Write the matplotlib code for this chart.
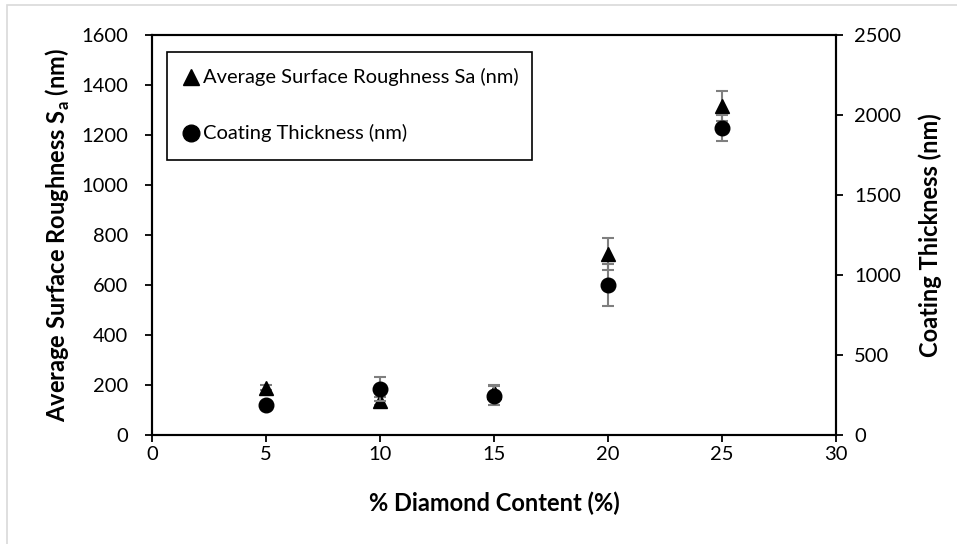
import matplotlib
matplotlib.use("Agg")
import matplotlib.pyplot as plt
from matplotlib.patches import Rectangle

plt.rcParams['font.family'] = ['Lato', 'DejaVu Sans']
plt.rcParams['mathtext.fontset'] = 'custom'
plt.rcParams['mathtext.rm'] = 'Lato'
plt.rcParams['mathtext.bf'] = 'Lato:bold'

# diamond content (%)
diamond = [5, 10, 15, 20, 25]
# average surface roughness Sa (nm) and its spread
roughness = [188, 136, 170, 724, 1316]
roughness_err = [10, 15, 30, 65, 60]
# coating thickness (nm) and its spread
thickness = [187, 287, 245, 937, 1919]
thickness_err = [10, 75, 60, 130, 80]

labels = ['Average Surface Roughness Sa (nm)', 'Coating Thickness (nm)']

fig = plt.figure(figsize=(9.57, 5.44), dpi=100)
ax = fig.add_axes([0.1588, 0.2004, 0.7148, 0.7353])
ax2 = ax.twinx()

err_kw = dict(ecolor='#7f7f7f', elinewidth=1.5, capsize=4.5, capthick=1.5, linestyle='none')
ax.errorbar(diamond, roughness, yerr=roughness_err, marker='^', markersize=10.5,
            color='black', **err_kw, zorder=3)
ax2.errorbar(diamond, thickness, yerr=thickness_err, marker='o', markersize=10.5,
             color='black', **err_kw, zorder=3)

ax.set_xlim(0, 30)
ax.set_ylim(0, 1600)
ax2.set_ylim(0, 2500)
ax.set_xticks(range(0, 31, 5))
ax.set_yticks(range(0, 1601, 200))
ax2.set_yticks(range(0, 2501, 500))

for a in (ax, ax2):
    for s in a.spines.values():
        s.set_linewidth(1.5)
    a.tick_params(direction='out', length=5, width=1.3, labelsize=14.5)
ax.tick_params(axis='x', pad=3)
ax.tick_params(axis='y', pad=12)
ax2.tick_params(axis='y', pad=8)

ax.set_xlabel('% Diamond Content (%)', fontsize=17, fontweight='bold')
ax.set_ylabel(r'Average Surface Roughness S$_{\mathbf{a}}$ (nm)', fontsize=17,
              fontweight='bold')
ax2.set_ylabel('Coating Thickness (nm)', fontsize=17, fontweight='bold')
for lab in (ax.xaxis.label, ax.yaxis.label, ax2.yaxis.label):
    lab.set_va('center')
ax.xaxis.set_label_coords(0.5, (435 - 503) / 400)
ax.yaxis.set_label_coords((58 - 152) / 684, 0.5)
ax2.yaxis.set_label_coords((930 - 152) / 684, 0.5)

# legend box drawn by hand so the padding can follow the layout
ax2.add_patch(Rectangle((0.0219, 0.6875), 0.5337, 0.27, transform=ax2.transAxes,
                        facecolor='white', edgecolor='black', linewidth=1.2, zorder=5))
for mk, lbl, yy in zip(['^', 'o'], labels, [0.895, 0.755]):
    ax2.plot([0.057], [yy], marker=mk, color='black', markersize=12,
             linestyle='none', transform=ax2.transAxes, zorder=6, clip_on=False)
    ax2.text(0.0746, yy, lbl, transform=ax2.transAxes, fontsize=14.5,
             va='center', ha='left', zorder=6)

# light outline of the chart area
fig.patches.append(Rectangle((7 / 957, -0.1), 1.2, 1 - 5 / 544 + 0.1,
                             transform=fig.transFigure, fill=False,
                             edgecolor='#d9d9d9', linewidth=1.2))

fig.savefig('out.png', dpi=100)
